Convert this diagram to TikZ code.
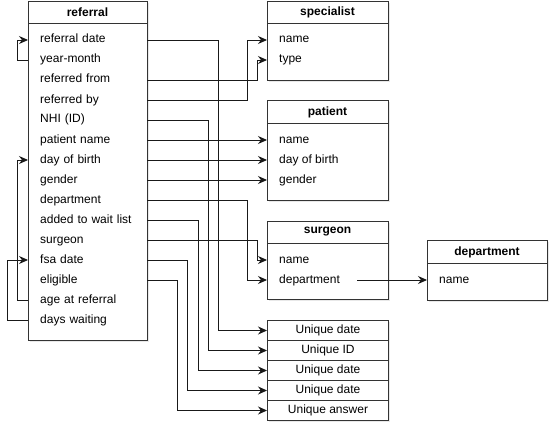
\documentclass[tikz,border=0pt]{standalone}
\usepackage{fontspec}
\setmainfont{Liberation Sans}
\usetikzlibrary{arrows.meta,shadows}
\begin{document}
\begin{tikzpicture}[x=1pt,y=-1pt,font=\fontsize{12}{14}\selectfont,
  box/.style={draw=black!80,line width=1pt,fill=white,anchor=north west,inner sep=0,
    drop shadow={opacity=0.18,shadow xshift=1.5pt,shadow yshift=-1.5pt}},
  ttl/.style={font=\fontsize{12}{14}\selectfont\bfseries,inner sep=0},
  row/.style={anchor=west,inner sep=0,text height=9pt,text depth=3pt},
  link/.style={draw=black!90,line width=0.9pt,-{Stealth[length=9pt,width=8pt,inset=3pt]}},
  cell/.style={draw=black!80,line width=1pt,fill=white,minimum width=121pt,minimum height=20pt,inner sep=0,anchor=north west,
    drop shadow={opacity=0.18,shadow xshift=1.5pt,shadow yshift=-1.5pt}}]
\useasboundingbox (0,0) rectangle (559,433);

% referral
\node[box,minimum width=119pt,minimum height=339pt] (referral) at (28,1) {};
\draw[draw=black!80,line width=1pt] (28,24) -- (147,24);
\node[ttl] (reftitle) at (87.5,12.5) {referral};
\node[row,text width=107pt] (rd) at (40,40) {referral date};
\node[row,text width=107pt] (ym) at (40,60) {year-month};
\node[row,text width=107pt] (rfrom) at (40,80) {referred from};
\node[row,text width=107pt] (rby) at (40,100) {referred by};
\node[row,text width=107pt] (nhi) at (40,120) {NHI (ID)};
\node[row,text width=107pt] (pname) at (40,140) {patient name};
\node[row,text width=107pt] (dob) at (40,160) {day of birth};
\node[row,text width=107pt] (gen) at (40,180) {gender};
\node[row,text width=107pt] (dept) at (40,200) {department};
\node[row,text width=107pt] (awl) at (40,220) {added to wait list};
\node[row,text width=107pt] (surg) at (40,240) {surgeon};
\node[row,text width=107pt] (fsa) at (40,260) {fsa date};
\node[row,text width=107pt] (elig) at (40,280) {eligible};
\node[row,text width=107pt] (age) at (40,300) {age at referral};
\node[row,text width=107pt] (dw) at (40,320) {days waiting};

% specialist
\node[box,minimum width=121pt,minimum height=79pt] (specialist) at (267,1) {};
\draw[draw=black!80,line width=1pt] (267,24) -- (388,24);
\node[ttl] (spectitle) at (327.5,12.5) {specialist};
\node[row] (sname) at (279,40) {name};
\node[row] (stype) at (279,60) {type};

% patient
\node[box,minimum width=121pt,minimum height=100pt] (patient) at (267,100) {};
\draw[draw=black!80,line width=1pt] (267,124) -- (388,124);
\node[ttl] (pattitle) at (327.5,112) {patient};
\node[row] (pn) at (279,140) {name};
\node[row] (pdob) at (279,160) {day of birth};
\node[row] (pgen) at (279,180) {gender};

% surgeon
\node[box,minimum width=121pt,minimum height=78pt] (surgeon) at (267,221) {};
\draw[draw=black!80,line width=1pt] (267,243) -- (388,243);
\node[ttl] (surtitle) at (327.5,232) {surgeon};
\node[row] (suname) at (279,260) {name};
\node[row] (sudept) at (279,280) {department};

% department
\node[box,minimum width=120pt,minimum height=60pt] (department) at (427,240) {};
\draw[draw=black!80,line width=1pt] (427,263) -- (547,263);
\node[ttl] (deptitle) at (487,252) {department};
\node[row] (dname) at (439,280) {name};

% unique cells
\node[cell] (u1) at (267,320) {Unique date};
\node[cell] (u2) at (267,340) {Unique ID};
\node[cell] (u3) at (267,360) {Unique date};
\node[cell] (u4) at (267,380) {Unique date};
\node[cell] (u5) at (267,400) {Unique answer};

% connectors right side
\draw[link] (rd.east) -- ++(71,0) |- (u1.west);
\draw[link] (rfrom.east) -- ++(110,0) |- (specialist.west |- stype);
\draw[link] (rby.east) -- ++(100,0) |- (specialist.west |- sname);
\draw[link] (nhi.east) -- ++(61,0) |- (u2.west);
\draw[link] (pname.east) -- (patient.west |- pn);
\draw[link] (dob.east) -- (patient.west |- pdob);
\draw[link] (gen.east) -- (patient.west |- pgen);
\draw[link] (dept.east) -- ++(100,0) |- (surgeon.west |- sudept);
\draw[link] (awl.east) -- ++(51,0) |- (u3.west);
\draw[link] (surg.east) -- ++(110,0) |- (surgeon.west |- suname);
\draw[link] (fsa.east) -- ++(40,0) |- (u4.west);
\draw[link] (elig.east) -- ++(30,0) |- (u5.west);

% connectors left side
\draw[link] (referral.west |- ym) -- ++(-11,0) |- (referral.west |- rd);
\draw[link] (referral.west |- age) -- ++(-11,0) |- (referral.west |- dob);
\draw[link] (referral.west |- dw) -- ++(-21,0) |- (referral.west |- fsa);

% surgeon department -> department
\coordinate (sdstart) at (357,280);
\draw[link] (sdstart) -- (department.west |- dname);
\end{tikzpicture}
\end{document}
